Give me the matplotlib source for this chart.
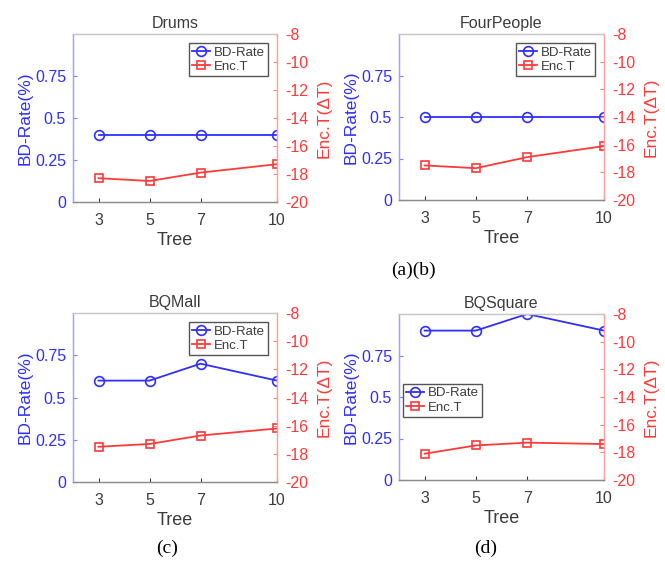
import numpy as np
import matplotlib.pyplot as plt

plt.rcParams['font.family'] = ['Liberation Sans', 'DejaVu Sans']
plt.rcParams['axes.unicode_minus'] = False

trees = [3, 5, 7, 10]
titles = ['Drums', 'FourPeople', 'BQMall', 'BQSquare']
bd_rate = [
    [0.4, 0.4, 0.4, 0.4],
    [0.5, 0.5, 0.5, 0.5],
    [0.6, 0.6, 0.7, 0.6],
    [0.9, 0.9, 1.0, 0.9],
]
enc_t = [
    [-18.3, -18.5, -17.9, -17.3],
    [-17.5, -17.7, -16.9, -16.1],
    [-17.5, -17.3, -16.7, -16.2],
    [-18.1, -17.5, -17.3, -17.4],
]
bd_ticks = [0, 0.25, 0.5, 0.75]
bd_ticklabels = ['0', '0.25', '0.5', '0.75']
enc_ticks = [-20, -18, -16, -14, -12, -10, -8]

W, H = 665, 562
# axes boxes in pixels: left, top, right, bottom
boxes = [(73, 34, 277, 202), (399, 34, 604, 200),
         (73, 313, 277, 482), (399, 314, 604, 480)]
legend_loc = ['upper right', 'upper right', 'upper right', (0.02, 0.38)]

blue = '#2f2fff'
red = '#ff3a3a'
gray = '#3c3c3c'

fig = plt.figure(figsize=(W / 100, H / 100), dpi=100)

for i in range(4):
    l, t, r, b = boxes[i]
    ax = fig.add_axes([l / W, 1 - b / H, (r - l) / W, (b - t) / H])
    ax2 = ax.twinx()
    l1, = ax.plot(trees, bd_rate[i], '-o', color=blue, lw=1.3, ms=7,
                  mfc='none', mew=1.2, label='BD-Rate')
    l2, = ax2.plot(trees, enc_t[i], '-s', color=red, lw=1.3, ms=6,
                   mfc='none', mew=1.2, label='Enc.T')
    ax.set_xlim(2, 10)
    ax.set_ylim(0, 1)
    ax2.set_ylim(-20, -8)
    ax.set_xticks(trees)
    ax.set_yticks(bd_ticks)
    ax.set_yticklabels(bd_ticklabels)
    ax2.set_yticks(enc_ticks)
    ax.tick_params(axis='x', colors=gray, labelsize=11.5, direction='in',
                   length=3, pad=8)
    ax.tick_params(axis='y', colors='#8080ff', labelcolor=blue, labelsize=11.5,
                   direction='in', length=3, pad=5)
    ax2.tick_params(axis='y', colors='#ff8080', labelcolor=red, labelsize=11.5,
                    direction='in', length=3, pad=6)
    for a in (ax, ax2):
        a.spines['left'].set_color('#a0a0ff')
        a.spines['right'].set_color('#ffa0a0')
        a.spines['top'].set_color('#c8c8c8')
        a.spines['bottom'].set_color('#8c8c8c')
        for s in a.spines.values():
            s.set_linewidth(0.9)
    ax.set_title(titles[i], fontsize=11.5, color=gray, pad=4)
    ax.set_xlabel('Tree', fontsize=13, color=gray, labelpad=3)
    ax.set_ylabel('BD-Rate(%)', fontsize=12.5, color=blue, labelpad=2)
    ax2.set_ylabel('Enc.T(\u0394T)', fontsize=12.5, color=red, labelpad=6)
    leg = ax2.legend([l1, l2], ['BD-Rate', 'Enc.T'], loc=legend_loc[i],
                     fontsize=9.5, handlelength=1.3, handletextpad=0.3,
                     borderpad=0.25, labelspacing=0.15, fancybox=False,
                     framealpha=1, edgecolor='#555555', borderaxespad=0.7)
    for txt in leg.get_texts():
        txt.set_color(gray)

cap = dict(fontsize=14, family=['Liberation Serif', 'DejaVu Serif'], ha='center', va='center')
fig.text(413 / W, 1 - 270 / H, '(a)(b)', **cap)
fig.text(167 / W, 1 - 548 / H, '(c)', **cap)
fig.text(486 / W, 1 - 548 / H, '(d)', **cap)

fig.savefig('out.png', dpi=100)
